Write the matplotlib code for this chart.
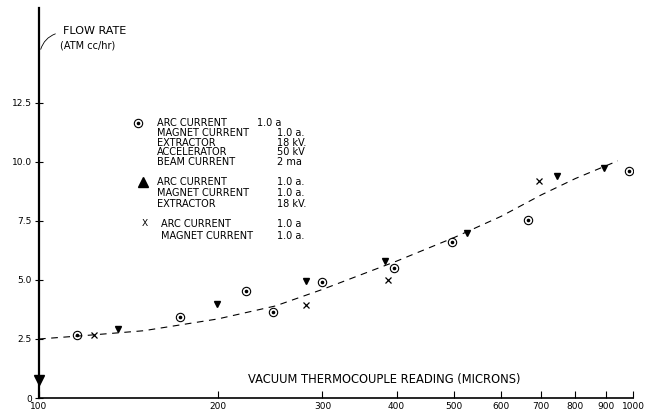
import matplotlib
matplotlib.use("Agg")
import matplotlib.pyplot as plt
from matplotlib.patches import FancyArrowPatch
from matplotlib.lines import Line2D

# ---- data ----
circ_x = [116, 173, 223, 248, 299, 396, 495, 665, 985]
circ_y = [2.68, 3.44, 4.55, 3.63, 4.92, 5.5, 6.6, 7.54, 9.62]

tri_x = [136, 199, 282, 382, 526, 746, 893]
tri_y = [2.92, 3.99, 4.95, 5.79, 6.99, 9.41, 9.75]

x_x = [124, 282, 387, 695]
x_y = [2.65, 3.96, 5.02, 9.21]

curve_x = [100, 120, 150, 200, 250, 300, 400, 500, 600, 700, 800, 943]
curve_y = [2.5, 2.65, 2.85, 3.35, 3.9, 4.6, 5.8, 6.8, 7.7, 8.6, 9.3, 10.05]

xticks = [100, 200, 300, 400, 500, 600, 700, 800, 900, 1000]
xtick_labels = ["100", "200", "300", "400", "500", "600", "700", "800", "900", "1000"]
yticks = [0, 2.5, 5.0, 7.5, 10.0, 12.5]
ytick_labels = ["0", "2.5", "5.0", "7.5", "10.0", "12.5"]

W, H = 648, 417
fig = plt.figure(figsize=(W / 100, H / 100), dpi=100)
ax = fig.add_axes([39 / W, 1 - 398 / H, 594 / W, 390 / H])
ax.set_xscale("log")
ax.set_xlim(100, 1000)
ax.set_ylim(0, 390 / 23.6)

font = "DejaVu Sans"
fs = 7

# dashed curve
ax.plot(curve_x, curve_y, color="black", lw=0.8, dashes=(6, 5))

# series
ax.plot(circ_x, circ_y, "o", ms=6, mfc="none", mec="black", mew=0.8)
ax.plot(circ_x, circ_y, "o", ms=1.6, color="black")
ax.plot(tri_x, tri_y, "v", ms=5, color="black")
ax.plot(x_x, x_y, "x", ms=3.8, color="black", mew=0.9)

# arrow on y axis
ax.plot([100], [0.76], "v", ms=7, color="black", clip_on=False)

# spines and ticks
for s in ["top", "right"]:
    ax.spines[s].set_visible(False)
ax.spines["left"].set_linewidth(1.6)
ax.spines["bottom"].set_linewidth(1.2)
ax.set_xticks(xticks)
ax.set_xticklabels(xtick_labels, fontsize=6.5, family=font)
ax.xaxis.set_minor_locator(matplotlib.ticker.NullLocator())
ax.set_yticks(yticks)
ax.set_yticklabels(ytick_labels, fontsize=6.5, family=font)
ax.tick_params(axis="x", direction="in", length=5, width=0.8, pad=3)
ax.tick_params(axis="y", direction="inout", length=6, width=0.8, pad=2)

def fx(px):
    return px / W

def fy(py):
    return 1 - py / H

# x axis label
fig.text(fx(248), fy(379), "VACUUM THERMOCOUPLE READING (MICRONS)",
         fontsize=8.3, family=font, ha="left", va="center")

# y axis label
fig.text(fx(63), fy(31), "FLOW RATE", fontsize=8, family=font, va="center")
fig.text(fx(60), fy(45), "(ATM cc/hr)", fontsize=7, family=font, va="center")
arr = FancyArrowPatch((fx(40), fy(52)), (fx(58), fy(33)), transform=fig.transFigure,
                      connectionstyle="arc3,rad=-0.3", arrowstyle="-", lw=0.6, color="black")
fig.patches.append(arr)

# legend block (as drawn text)
vx = 277
rows = [
    (123, 157, "ARC CURRENT", "1.0 a", 257),
    (133, 157, "MAGNET CURRENT", "1.0 a.", vx),
    (143, 157, "EXTRACTOR", "18 kV.", vx),
    (152, 157, "ACCELERATOR", "50 kV", vx),
    (162, 157, "BEAM CURRENT", "2 ma", vx),
    (182, 157, "ARC CURRENT", "1.0 a.", vx),
    (193, 157, "MAGNET CURRENT", "1.0 a.", vx),
    (204, 157, "EXTRACTOR", "18 kV.", vx),
    (224, 161, "ARC CURRENT", "1.0 a", vx),
    (236, 161, "MAGNET CURRENT", "1.0 a.", vx),
]
for py, x0, lab, val, vxx in rows:
    fig.text(fx(x0), fy(py), lab, fontsize=fs, family=font, va="center")
    fig.text(fx(vxx), fy(py), val, fontsize=fs, family=font, va="center")

# legend symbols
fig.lines.append(Line2D([fx(138)], [fy(123)], marker="o", ms=6, mfc="none",
                        mec="black", mew=0.8, transform=fig.transFigure))
fig.lines.append(Line2D([fx(138)], [fy(123)], marker="o", ms=1.6, color="black",
                        transform=fig.transFigure))
fig.lines.append(Line2D([fx(143)], [fy(182)], marker="^", ms=7, color="black",
                        transform=fig.transFigure))
fig.text(fx(145), fy(224), "X", fontsize=6.5, family=font, va="center", ha="center")

fig.savefig("out.png", dpi=100)
